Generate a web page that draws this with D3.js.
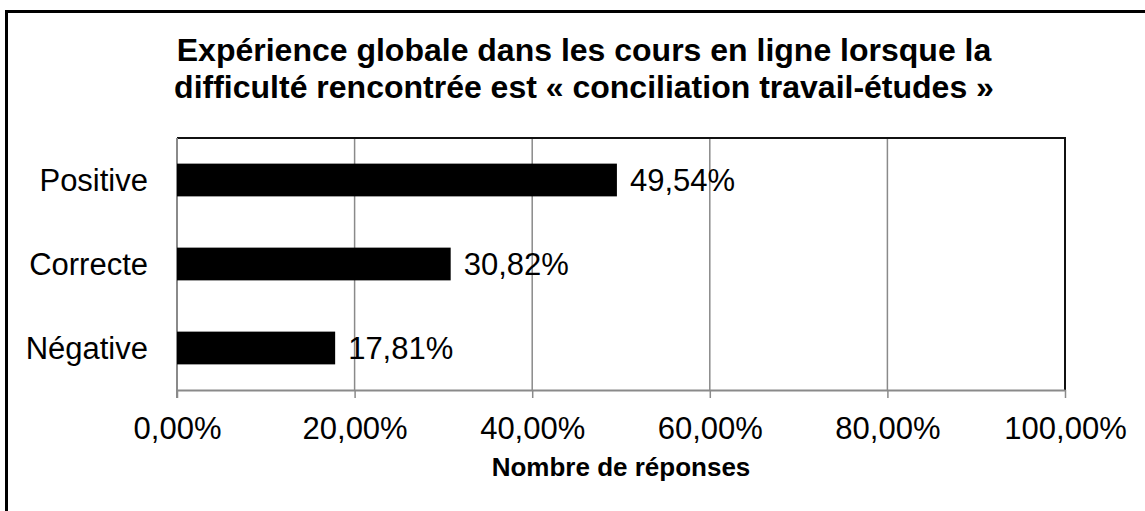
<!DOCTYPE html>
<html>
<head>
<meta charset="utf-8">
<script src="https://cdn.jsdelivr.net/npm/d3@7"></script>
<style>
  html, body { margin: 0; padding: 0; background: #fff; }
  svg { display: block; font-family: "Liberation Sans", Arial, sans-serif; }
</style>
</head>
<body>
<svg id="chart" width="1145" height="511"></svg>
<script>
// Survey answers: overall online-course experience
const categories = ["Positive", "Correcte", "Négative"];
const values = [49.54, 30.82, 17.81];
const valueLabels = ["49,54%", "30,82%", "17,81%"];
const tickValues = [0, 20, 40, 60, 80, 100];
const tickLabels = ["0,00%", "20,00%", "40,00%", "60,00%", "80,00%", "100,00%"];
const titleLines = [
  "Expérience globale dans les cours en ligne lorsque la",
  "difficulté rencontrée est « conciliation travail-études »"
];
const axisTitle = "Nombre de réponses";

const svg = d3.select("#chart");
const W = 1145, H = 511;
const plot = { left: 177, right: 1065, top: 138, bottom: 390 };

// outer frame (top and left edges fall inside the canvas)
svg.append("path")
  .attr("d", `M6.5,${H + 10} L6.5,11.5 L${W + 10},11.5`)
  .attr("fill", "none").attr("stroke", "#000").attr("stroke-width", 3);

// title
svg.append("text")
  .attr("x", 584).attr("y", 61)
  .attr("text-anchor", "middle")
  .attr("font-size", 32).attr("font-weight", "bold").attr("fill", "#000")
  .selectAll("tspan").data(titleLines).join("tspan")
  .attr("x", 584).attr("dy", (d, i) => i === 0 ? 0 : 37)
  .text(d => d);

const x = d3.scaleLinear().domain([0, 100]).range([plot.left, plot.right]);
const y = d3.scaleBand().domain(categories).range([plot.top, plot.bottom]).paddingInner(0.61).paddingOuter(0.305);

// vertical gridlines
svg.append("g").selectAll("line").data(tickValues.filter(t => t > 0 && t < 100)).join("line")
  .attr("x1", d => x(d)).attr("x2", d => x(d))
  .attr("y1", plot.top).attr("y2", plot.bottom)
  .attr("stroke", "#8a8a8a").attr("stroke-width", 1.5);

// plot frame top/right
svg.append("path")
  .attr("d", `M${plot.left},${plot.top} L${plot.right},${plot.top} L${plot.right},${plot.bottom}`)
  .attr("fill", "none").attr("stroke", "#111").attr("stroke-width", 2);

// x axis
const xAxis = d3.axisBottom(x).tickValues(tickValues)
  .tickFormat((d, i) => tickLabels[i]).tickSize(8).tickPadding(12).tickSizeOuter(0);
const gx = svg.append("g").attr("transform", `translate(0,${plot.bottom})`).call(xAxis);
gx.select(".domain").attr("stroke", "#8a8a8a").attr("stroke-width", 2);
gx.selectAll(".tick line").attr("stroke", "#8a8a8a").attr("stroke-width", 1.5);
gx.selectAll(".tick text")
  .attr("font-size", 31).attr("fill", "#000")
  .attr("font-family", "\"Liberation Sans\", Arial, sans-serif")
  .attr("dy", null).attr("y", 49);

// y axis
const yAxis = d3.axisLeft(y).tickSize(0).tickPadding(29);
const gy = svg.append("g").attr("transform", `translate(${plot.left},0)`).call(yAxis);
gy.select(".domain").attr("stroke", "#8a8a8a").attr("stroke-width", 2)
  .attr("d", `M0,${plot.top} V${plot.bottom + 8}`);
gy.selectAll(".tick text")
  .attr("font-size", 31).attr("fill", "#000")
  .attr("font-family", "\"Liberation Sans\", Arial, sans-serif")
  .attr("dy", "0.35em");

// bars
svg.append("g").selectAll("rect").data(values).join("rect")
  .attr("x", x(0))
  .attr("y", (d, i) => y(categories[i]))
  .attr("width", d => x(d) - x(0))
  .attr("height", y.bandwidth())
  .attr("fill", "#000");

// value labels
svg.append("g").selectAll("text").data(values).join("text")
  .attr("x", d => x(d) + 13)
  .attr("y", (d, i) => y(categories[i]) + y.bandwidth() / 2)
  .attr("dy", "0.35em")
  .attr("font-size", 31).attr("fill", "#000")
  .text((d, i) => valueLabels[i]);

// axis title
svg.append("text")
  .attr("x", (plot.left + plot.right) / 2).attr("y", 476)
  .attr("text-anchor", "middle")
  .attr("font-size", 26).attr("font-weight", "bold").attr("fill", "#000")
  .text(axisTitle);
</script>
</body>
</html>
